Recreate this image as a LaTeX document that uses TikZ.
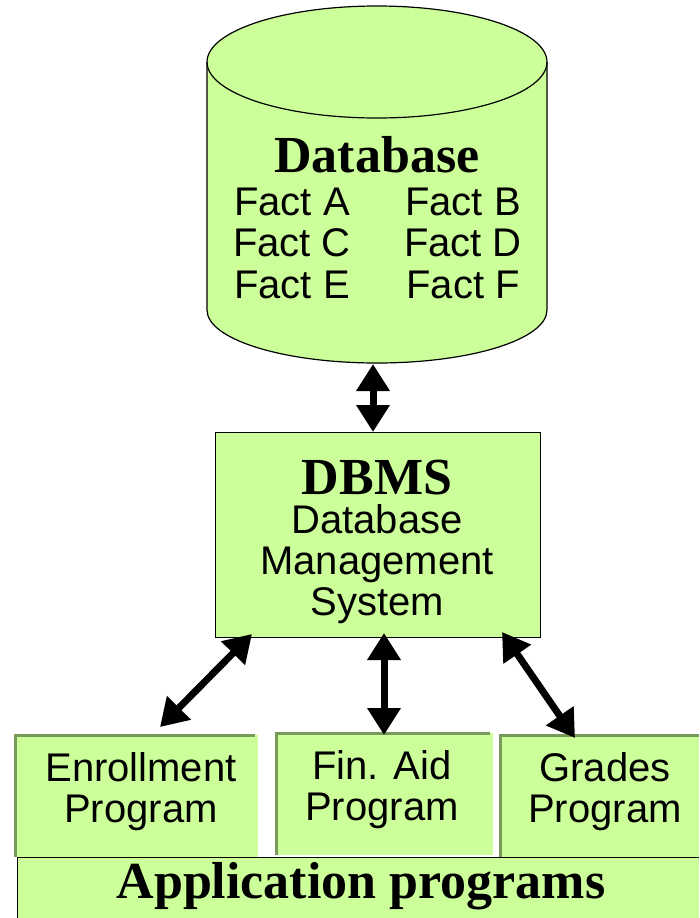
\documentclass[tikz,border=0pt]{standalone}
\usepackage{fontspec}
\setmainfont{Liberation Serif}
\setsansfont{Liberation Sans}
\usetikzlibrary{arrows.meta}
\definecolor{fillgreen}{HTML}{CCFF99}
\definecolor{edgegreen}{HTML}{7A9A5C}
\begin{document}
\begin{tikzpicture}[x=1pt,y=-1pt,
  sanstext/.style={font=\sffamily\fontsize{40}{41}\selectfont, align=center, inner sep=0pt},
  titletext/.style={font=\bfseries\fontsize{52}{54}\selectfont, inner sep=0pt},
  dbl/.style={line width=7pt, {Triangle[width=32pt,length=27pt]}-{Triangle[width=32pt,length=27pt]}},
  progbox/.style={fill=fillgreen, draw=none, minimum width=#1, minimum height=122pt, inner sep=0pt}
]
\useasboundingbox (0,0) rectangle (699,918);
% database cylinder
\fill[fillgreen] (207,62) -- (207,310) arc[start angle=180,end angle=0,x radius=170,y radius=53] -- (547,62) -- cycle;
\fill[fillgreen] (377,62) ellipse[x radius=170, y radius=56];
\draw[line width=1.2pt] (207,62) -- (207,310) arc[start angle=180,end angle=0,x radius=170,y radius=53] -- (547,62);
\draw[line width=1.2pt] (377,62) ellipse[x radius=170, y radius=56];
\node[titletext] (dbtitle) at (377,155) {Database};
\node[sanstext] (fa) at (292,202) {Fact A};
\node[sanstext] (fb) at (463,202) {Fact B};
\node[sanstext] (fc) at (292,243) {Fact C};
\node[sanstext] (fd) at (463,243) {Fact D};
\node[sanstext] (fe) at (292,285) {Fact E};
\node[sanstext] (ff) at (463,285) {Fact F};
\coordinate (dbbot) at (373,364);
% DBMS
\node[draw, line width=1.2pt, fill=fillgreen, minimum width=325pt, minimum height=205pt, inner sep=0pt, anchor=north west] (dbms) at (215,432) {};
\node[titletext] (dbmst) at (377,478) {DBMS};
\node[sanstext] (dbmsd) at (377,564) {Database\\Management\\System};
\coordinate (dbmstop) at (373,432);
\coordinate (dl) at (252,634);
\coordinate (dm) at (384,633);
\coordinate (dr) at (502,632);
% application programs
\fill[fillgreen] (17,857) rectangle (699,918);
\draw[line width=1pt] (17,918) -- (17,857) -- (699,857);
\node[progbox=243pt, anchor=north west] (enr) at (15,735) {};
\node[progbox=217pt, anchor=north west] (fin) at (276,733) {};
\node[progbox=199pt, anchor=north west] (grd) at (500,735) {};
\draw[edgegreen, line width=3pt] (enr.south west) -- (enr.north west) -- ([xshift=-3pt]enr.north east);
\draw[edgegreen, line width=3pt] (fin.south west) -- (fin.north west) -- ([xshift=-3pt]fin.north east);
\draw[edgegreen, line width=3pt] (grd.south west) -- (grd.north west) -- (grd.north east);
\node[sanstext] (enrt) at (141,792) {Enrollment\\Program};
\node[sanstext] (fint) at (382,790) {Fin. Aid\\Program};
\node[sanstext] (grdt) at (605,792) {Grades\\Program};
\node[titletext] (appt) at (361,886) {Application programs};
\coordinate (el) at (160,727);
\coordinate (em) at (384,735);
\coordinate (er) at (575,738);
% arrows
\draw[dbl] (dbbot) -- (dbmstop);
\draw[dbl] (dl) -- (el);
\draw[dbl] (dm) -- (em);
\draw[dbl] (dr) -- (er);
\end{tikzpicture}
\end{document}
